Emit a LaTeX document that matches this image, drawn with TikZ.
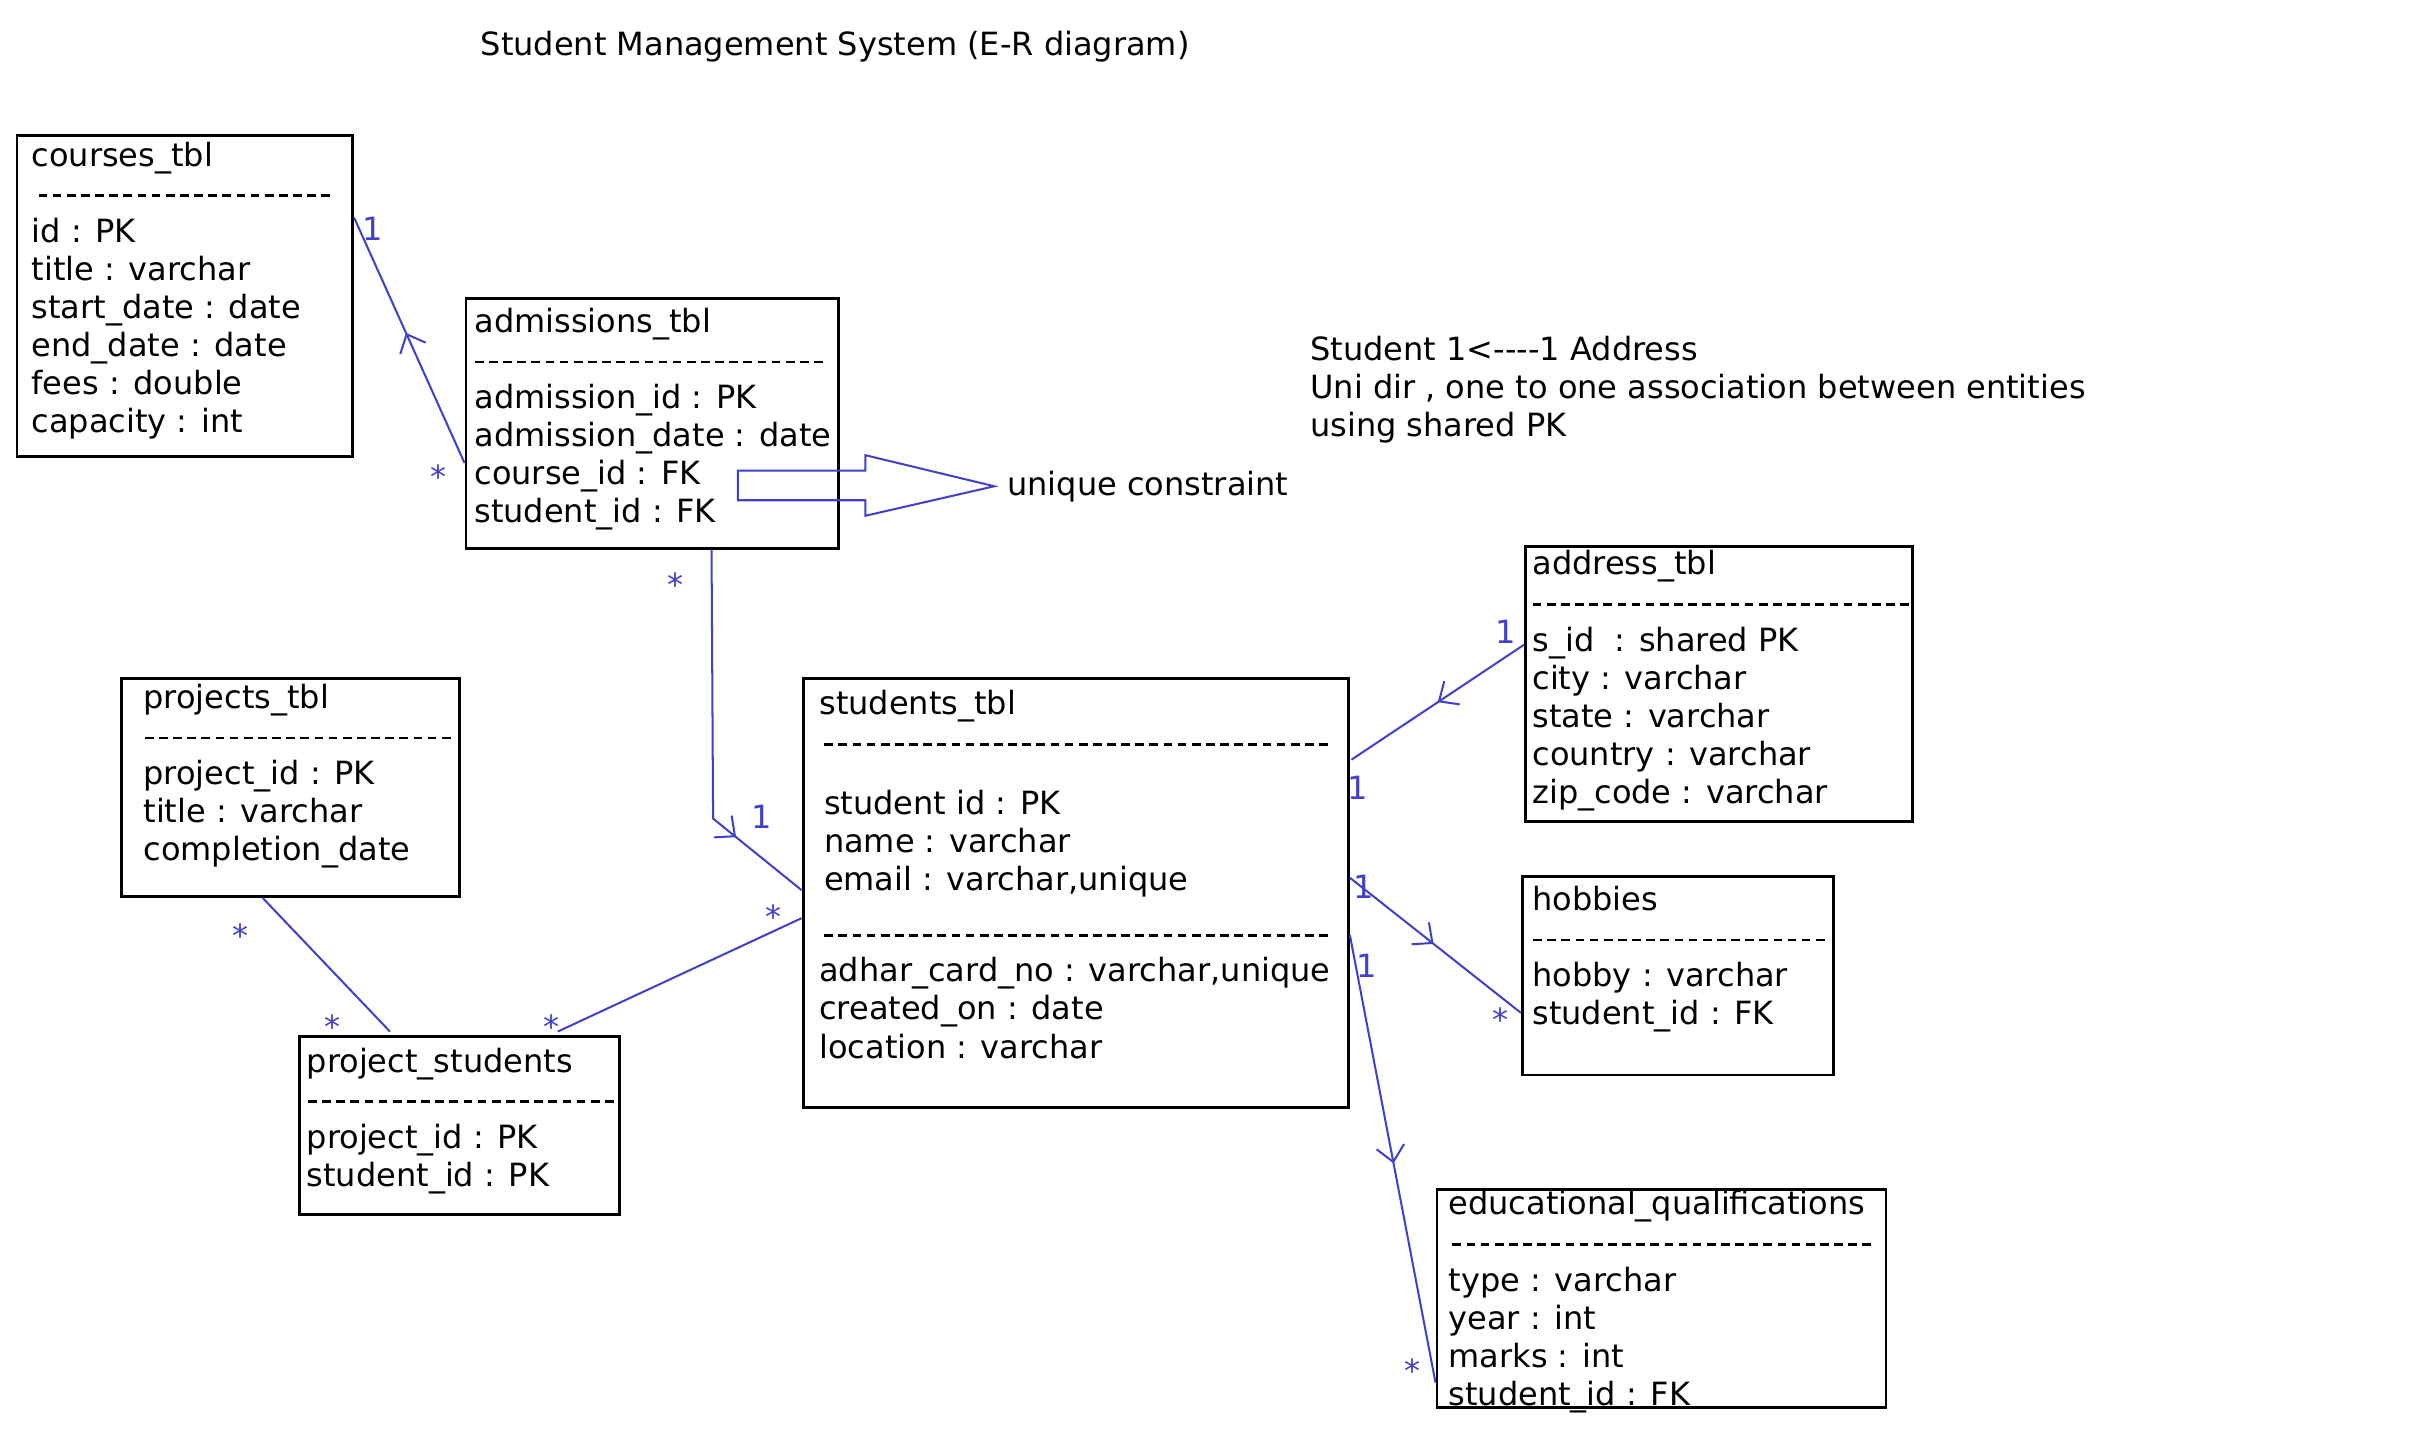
\documentclass[tikz,border=0pt]{standalone}
\usepackage{fontspec}
\setmainfont{DejaVu Sans}
\usepackage{tikz}
\usetikzlibrary{positioning,arrows.meta,calc,decorations.markings}
\definecolor{erblue}{RGB}{64,64,204}
\newcommand{\dashfill}[1]{\hbox to #1{\cleaders\hbox{\rule[2.3pt]{2.8pt}{0.9pt}\hspace{1.75pt}}\hfill}}

\begin{document}
\begin{tikzpicture}[x=0.5pt, y=-0.5pt, >=Latex,
    every node/.style={font=\fontsize{10.3}{12.25}\selectfont},
    tbl/.style={draw, line width=0.95pt, anchor=north west, inner sep=0pt},
    rows/.style={anchor=north west, align=left, inner sep=0pt},
    rel/.style={draw=erblue, line width=0.65pt},
    midarrow/.style={postaction={decorate}, decoration={markings,
      mark=at position #1 with {\arrow[erblue, line width=0.65pt]{Straight Barb[length=5pt, width=9pt]}}}},
    card/.style={text=erblue, inner sep=0pt}]
  \useasboundingbox (0,0) rectangle (1568,929);

  \node[anchor=west, inner sep=0pt] (title) at (309,30) {Student Management System (E-R diagram)};
  \node[rows] (note) at (843,216) {Student 1<-{}-{}-{}-1 Address\\Uni dir , one to one association between entities\\using shared PK};

  % tables
  \node[tbl, minimum width=108pt, minimum height=103.5pt] (courses) at (10,86) {};
  \node[rows] (courses-t) at ($(courses.north west)+(10,5)$) {courses\_tbl\\\dashfill{100pt}\\id : PK\\title : varchar\\start\_date : date\\end\_date : date\\fees : double\\capacity : int};

  \node[tbl, minimum width=120pt, minimum height=80.5pt] (adm) at (299,191) {};
  \node[rows] (adm-t) at ($(adm.north west)+(6,7)$) {admissions\_tbl\\\dashfill{114pt}\\admission\_id : PK\\admission\_date : date\\course\_id : FK\\student\_id : FK};

  \node[tbl, minimum width=124.5pt, minimum height=88.5pt] (addr) at (981,351) {};
  \node[rows] (addr-t) at ($(addr.north west)+(5,3)$) {address\_tbl\\\dashfill{123pt}\\s\_id\ \ : shared PK\\city : varchar\\state : varchar\\country : varchar\\zip\_code : varchar};

  \node[tbl, minimum width=175.5pt, minimum height=138pt] (stu) at (516,436) {};
  \node[rows] (stu-t) at ($(stu.north west)+(11,8)$) {students\_tbl\\\dashfill{167pt}\\[7.5pt]\hspace{1.5pt}student id : PK\\\hspace{1.5pt}name : varchar\\\hspace{1.5pt}email : varchar,unique\\[5pt]\dashfill{167pt}\\adhar\_card\_no : varchar,unique\\created\_on : date\\location : varchar};

  \node[tbl, minimum width=109pt, minimum height=70pt] (proj) at (77,436) {};
  \node[rows] (proj-t) at ($(proj.north west)+(15,4)$) {projects\_tbl\\\dashfill{101pt}\\project\_id : PK\\title : varchar\\completion\_date};

  \node[tbl, minimum width=103pt, minimum height=57.5pt] (prs) at (192,666) {};
  \node[rows] (prs-t) at ($(prs.north west)+(5,8)$) {project\_students\\\dashfill{101pt}\\project\_id : PK\\student\_id : PK};

  \node[tbl, minimum width=100pt, minimum height=64pt] (hob) at (979,563) {};
  \node[rows] (hob-t) at ($(hob.north west)+(7,7)$) {hobbies\\\dashfill{96pt}\\hobby : varchar\\student\_id : FK};

  \node[tbl, minimum width=144.5pt, minimum height=70pt] (edu) at (924,765) {};
  \node[rows] (edu-t) at ($(edu.north west)+(8,1)$) {educational\_qualifications\\\dashfill{139pt}\\type : varchar\\year : int\\marks : int\\student\_id : FK};

  % unique constraint
  \coordinate (uctip) at (640,313);
  \node[right=4pt of uctip, inner sep=0pt] (uc) {unique constraint};
  \draw[rel] (uctip) -- ++(-83,-20) -- ++(0,10) -- ++(-82,0) -- ++(0,19) -- ++(82,0) -- ++(0,10) -- cycle;

  % relations
  \draw[rel, midarrow=0.53] ($(adm.north west)+(0,107)$) -- ($(courses.north east)+(0,54)$);
  \draw[rel, midarrow=0.78] ($(adm.south west)+(159,0)$) -- ++(1,173) -- ($(stu.north west)+(0,137)$);
  \draw[rel] ($(prs.north west)+(167,-2)$) -- ($(stu.north west)+(0,155)$);
  \draw[rel] ($(proj.south west)+(92,0)$) -- ($(prs.north west)+(59,-2)$);
  \draw[rel, midarrow=0.5] ($(addr.north west)+(0,64)$) -- ($(stu.north east)+(1,53)$);
  \draw[rel, midarrow=0.49] ($(stu.north east)+(0,129)$) -- ($(hob.north west)+(0,89)$);
  \draw[rel, midarrow=0.51] ($(stu.north east)+(0,166)$) -- ($(edu.north west)+(0,125)$);

  \node[card] (ca1) at (240,147) {1};
  \node[card] (ca2) at (282,307) {*};
  \node[card] (as1) at (435,376) {*};
  \node[card] (as2) at (490,526) {1};
  \node[card] (ps1) at (498,590) {*};
  \node[card] (ps2) at (355,661) {*};
  \node[card] (pp1) at (155,602) {*};
  \node[card] (pp2) at (214,661) {*};
  \node[card] (ad1) at (969,407) {1};
  \node[card] (ad2) at (874,507) {1};
  \node[card] (ho1) at (878,571) {1};
  \node[card] (ho2) at (966,656) {*};
  \node[card] (ed1) at (880,622) {1};
  \node[card] (ed2) at (909,882) {*};
\end{tikzpicture}
\end{document}
